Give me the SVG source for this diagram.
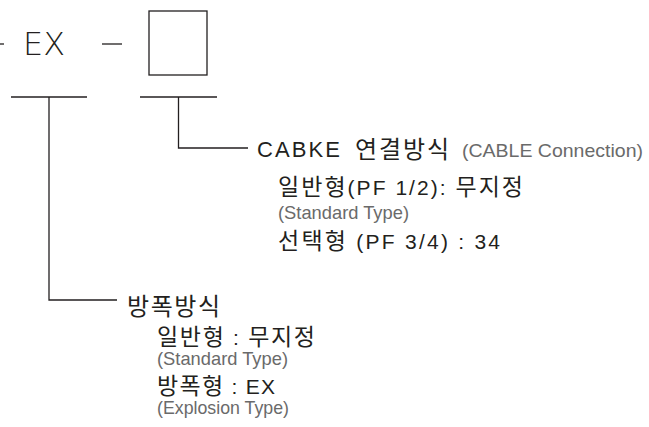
<svg xmlns="http://www.w3.org/2000/svg" width="649" height="427" viewBox="0 0 649 427">
<style>
.ln{stroke:#231f20;stroke-width:1.3;fill:none}
.k{font-family:"Liberation Sans","Noto Sans CJK KR",sans-serif;fill:#231f20}
.h{font-size:24px}
.s{font-size:23px}
.l{font-size:21px}
.e{font-family:"Liberation Sans",sans-serif;fill:#6a6a6a;font-size:19px}
.big{font-family:"DejaVu Sans",sans-serif;font-size:32px;fill:#231f20;font-weight:200}
</style>
<rect width="649" height="427" fill="#fff"/>
<g id="code">
<line class="ln" x1="0" y1="44" x2="4" y2="44"/>
<text class="big" x="23" y="55" textLength="42" lengthAdjust="spacingAndGlyphs">EX</text>
<line class="ln" x1="102" y1="44" x2="122" y2="44"/>
<rect class="ln" x="149" y="11" width="58" height="64"/>
</g>
<g id="connectors">
<line class="ln" x1="11" y1="97" x2="87" y2="97"/>
<line class="ln" x1="140" y1="97" x2="217" y2="97"/>
<polyline class="ln" points="49,97 49,300 117,300"/>
<polyline class="ln" points="178.5,97 178.5,148 248,148"/>
</g>
<g id="cable">
<text class="k" font-size="22" x="257" y="157" textLength="83" lengthAdjust="spacing">CABKE</text>
<text class="k h" x="355" y="158" textLength="94" lengthAdjust="spacing">연결방식</text>
<text class="e" x="462" y="157" textLength="181" lengthAdjust="spacingAndGlyphs">(CABLE Connection)</text>
<text class="k s" x="278" y="195" textLength="245" lengthAdjust="spacing">일반형<tspan class="l">(PF 1/2): </tspan>무지정</text>
<text class="e" x="278" y="219" textLength="131" lengthAdjust="spacingAndGlyphs">(Standard Type)</text>
<text class="k s" x="278" y="249" textLength="222" lengthAdjust="spacing">선택형<tspan class="l"> (PF 3/4) : 34</tspan></text>
</g>
<g id="explosion">
<text class="k h" x="127" y="315" textLength="93" lengthAdjust="spacing">방폭방식</text>
<text class="k s" x="157" y="345" textLength="158" lengthAdjust="spacing">일반형<tspan class="l"> : </tspan>무지정</text>
<text class="e" x="157" y="365" textLength="131" lengthAdjust="spacingAndGlyphs">(Standard Type)</text>
<text class="k s" x="157" y="394" textLength="118" lengthAdjust="spacing">방폭형<tspan class="l"> : EX</tspan></text>
<text class="e" x="157" y="414" textLength="132" lengthAdjust="spacingAndGlyphs">(Explosion Type)</text>
</g>
</svg>
